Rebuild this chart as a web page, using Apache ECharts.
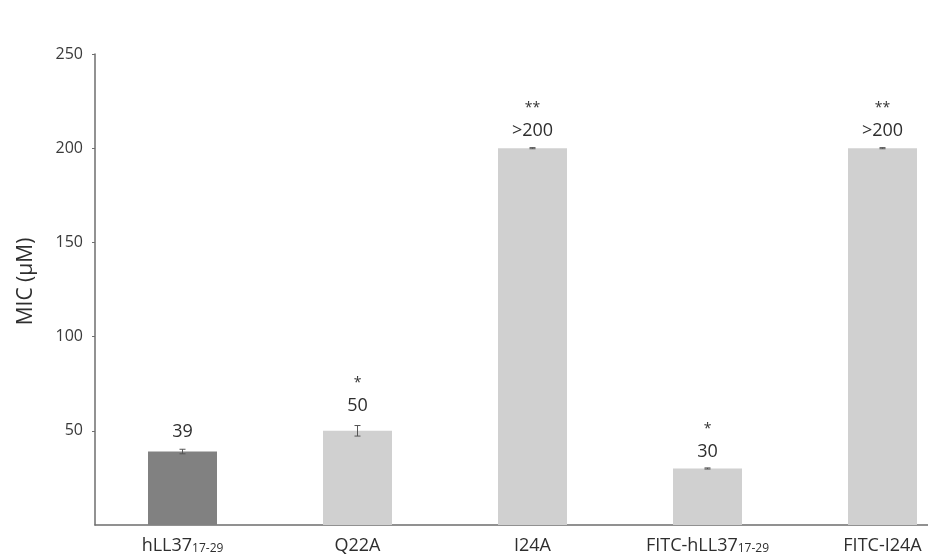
<!DOCTYPE html>
<html>
<head>
<meta charset="utf-8">
<script src="https://cdn.jsdelivr.net/npm/echarts@6/dist/echarts.min.js"></script>
<style>
  html, body { margin: 0; padding: 0; background: #ffffff; }
  #chart { width: 928px; height: 556px; }
</style>
</head>
<body>
<div id="chart"></div>
<script>
// Peptide names (base + subscript part)
const peptideNames = ['hLL37', 'Q22A', 'I24A', 'FITC-hLL37', 'FITC-I24A'];
const peptideSubs = ['17-29', '', '', '17-29', ''];
// MIC values (µM) and their error half-widths
const micValues = [39, 50, 200, 30, 200];
const micErrors = [1.2, 2.8, 0.3, 0.3, 0.3];
// Printed value labels and significance marks
const valueLabels = ['39', '50', '>200', '30', '>200'];
const starLabels = ['', '*', '**', '*', '**'];
// Y axis ticks
const yMin = 0, yMax = 250, yStep = 50;

const barColors = ['#818181', '#d0d0d0', '#d0d0d0', '#d0d0d0', '#d0d0d0'];
const categories = peptideNames.map((n, i) => n + (peptideSubs[i] ? '|' + peptideSubs[i] : ''));
const FONT = 'Open Sans';
const plotHeight = 471;
const pxPerUnit = plotHeight / (yMax - yMin);

const chart = echarts.init(document.getElementById('chart'));

chart.setOption({
  animation: false,
  grid: {
    left: 95, top: 54, width: 875, height: plotHeight,
    containLabel: false,
    outerBoundsMode: 'none'
  },
  xAxis: {
    type: 'category',
    data: categories,
    boundaryGap: true,
    axisLine: { lineStyle: { color: '#6e6e6e', width: 1.5 } },
    axisTick: { show: false },
    axisLabel: {
      interval: 0,
      margin: 12,
      formatter: function (v) {
        const parts = v.split('|');
        return parts.length > 1 ? '{a|' + parts[0] + '}{s|' + parts[1] + '}' : '{a|' + parts[0] + '}';
      },
      rich: {
        a: { fontFamily: FONT, fontSize: 18, color: '#2e2e2e' },
        s: { fontFamily: FONT, fontSize: 12, color: '#2e2e2e', padding: [6, 0, 0, 0] }
      }
    }
  },
  yAxis: {
    type: 'value',
    min: yMin,
    max: yMax,
    interval: yStep,
    name: 'MIC (μM)',
    nameLocation: 'middle',
    nameGap: 58,
    nameTextStyle: { fontFamily: FONT, fontSize: 21, color: '#2e2e2e', padding: [0, 0, 0, 16] },
    splitLine: { show: false },
    axisLine: { show: true, lineStyle: { color: '#6e6e6e', width: 1.5 } },
    axisTick: { show: true, length: 3, lineStyle: { color: '#6e6e6e' } },
    axisLabel: {
      showMinLabel: false,
      margin: 12,
      fontFamily: FONT,
      fontSize: 16,
      color: '#3a3a3a'
    }
  },
  series: [
    {
      type: 'bar',
      barWidth: 69,
      data: micValues.map((v, i) => ({
        value: v,
        itemStyle: { color: barColors[i] },
        label: {
          show: true,
          position: 'top',
          distance: 6 + micErrors[i] * pxPerUnit * 1.6,
          formatter: (starLabels[i] ? '{st|' + starLabels[i] + '}\n' : '') + '{v|' + valueLabels[i] + '}',
          rich: {
            st: { fontFamily: FONT, fontSize: 14, color: '#333333', lineHeight: 26 },
            v: { fontFamily: FONT, fontSize: 18, color: '#2e2e2e', lineHeight: 20 }
          }
        }
      }))
    },
    {
      type: 'custom',
      data: micValues.map((v, i) => [i, v - micErrors[i], v + micErrors[i]]),
      renderItem: function (params, api) {
        const x = api.value(0);
        const lo = api.coord([x, api.value(1)]);
        const hi = api.coord([x, api.value(2)]);
        const cap = 3;
        const style = { stroke: '#555555', lineWidth: 1 };
        return {
          type: 'group',
          children: [
            { type: 'line', shape: { x1: lo[0], y1: lo[1], x2: hi[0], y2: hi[1] }, style: style },
            { type: 'line', shape: { x1: hi[0] - cap, y1: hi[1], x2: hi[0] + cap, y2: hi[1] }, style: style },
            { type: 'line', shape: { x1: lo[0] - cap, y1: lo[1], x2: lo[0] + cap, y2: lo[1] }, style: style }
          ]
        };
      },
      z: 5
    }
  ]
});
</script>
</body>
</html>
